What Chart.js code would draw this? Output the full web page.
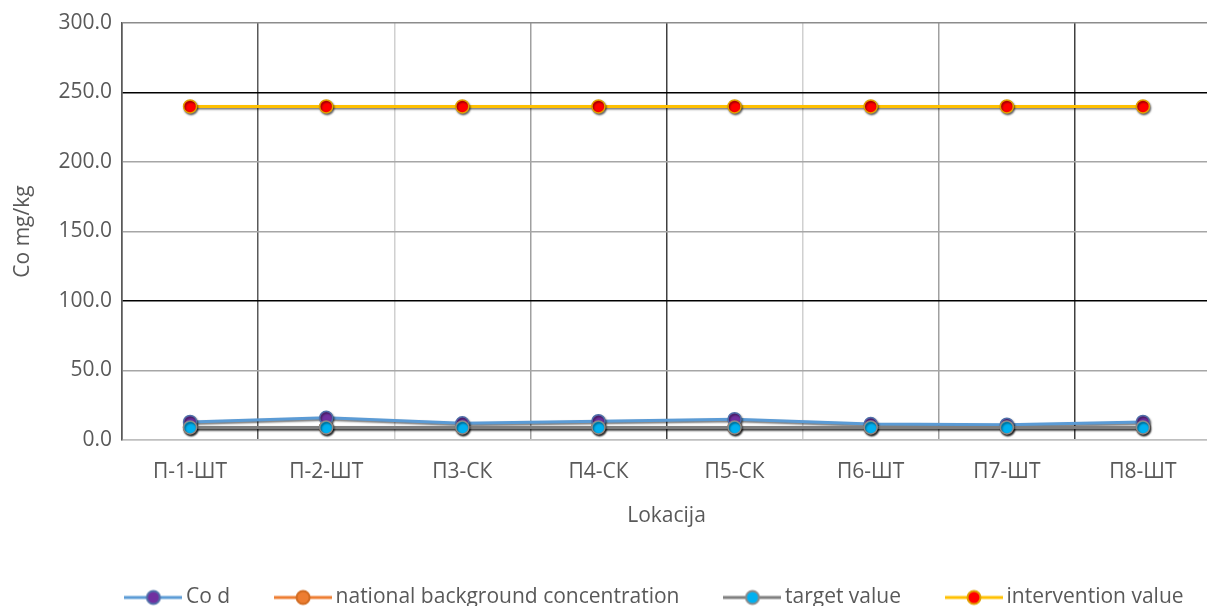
<!DOCTYPE html>
<html lang="en">
<head>
  <meta charset="UTF-8">
  <title>Co mg/kg</title>
  <script src="https://cdn.jsdelivr.net/npm/chart.js@4.4.3/dist/chart.umd.min.js"></script>
  <style>
    html, body { margin: 0; padding: 0; background: #fff; overflow: hidden; }
    canvas { display: block; }
  </style>
</head>
<body>
  <canvas id="coChart" width="1219" height="606"></canvas>

  <script>
    const locations = ['П-1-ШТ', 'П-2-ШТ', 'П3-СК', 'П4-СК', 'П5-СК', 'П6-ШТ', 'П7-ШТ', 'П8-ШТ'];
    const coD = [13, 16, 12, 13.5, 15, 11.5, 11, 13];
    const nationalBackground = [9, 9, 9, 9, 9, 9, 9, 9];
    const targetValue = [9, 9, 9, 9, 9, 9, 9, 9];
    const interventionValue = [240, 240, 240, 240, 240, 240, 240, 240];

    const FONT = "'Open Sans', sans-serif";
    const TEXT = '#595959';
    const SIZE = 21;

    // legend symbol: short line with a marker in the middle
    function legendIcon(line, fill, stroke) {
      const c = document.createElement('canvas');
      c.width = 58; c.height = 18;
      const g = c.getContext('2d');
      g.strokeStyle = line; g.lineWidth = 3;
      g.beginPath(); g.moveTo(0, 9); g.lineTo(58, 9); g.stroke();
      g.fillStyle = fill; g.strokeStyle = stroke; g.lineWidth = 2;
      g.beginPath(); g.arc(29, 9, 6.5, 0, Math.PI * 2); g.fill(); g.stroke();
      return c;
    }

    const series = [
      { label: 'Co d', data: coD, line: '#5b9bd5', fill: '#7030a0', stroke: '#4f6fa8', order: 2 },
      { label: 'national background concentration', data: nationalBackground, line: '#ed7d31', fill: '#ed7d31', stroke: '#d06a20', order: 3 },
      { label: 'target value', data: targetValue, line: '#7f7f7f', fill: '#00b0f0', stroke: '#8a8a8a', order: 1 },
      { label: 'intervention value', data: interventionValue, line: '#ffc000', fill: '#ff0000', stroke: '#e0a000', order: 0 }
    ];

    const yGrid = ['#bfbfbf', '#a6a6a6', '#000000', '#a6a6a6', '#a6a6a6', '#000000', '#8c8c8c'];
    const xGrid = ['#595959', '#595959', '#d0d0d0', '#a0a0a0', '#404040', '#d0d0d0', '#a0a0a0', '#404040', '#a0a0a0'];

    // soft dark edge under the series, like the original chart
    const lineShadow = {
      id: 'lineShadow',
      beforeDatasetDraw(chart) {
        const ctx = chart.ctx;
        ctx.save();
        ctx.shadowColor = 'rgba(0,0,0,0.55)';
        ctx.shadowBlur = 2;
        ctx.shadowOffsetX = 1;
        ctx.shadowOffsetY = 1.5;
      },
      afterDatasetDraw(chart) { chart.ctx.restore(); }
    };

    // the original legend sits right of centre (its chart was wider than the crop)
    const legendShift = {
      id: 'legendShift',
      afterLayout(chart) {
        chart.legend.left += 48;
        chart.legend.right += 48;
      }
    };

    new Chart(document.getElementById('coChart'), {
      type: 'line',
      data: {
        labels: locations,
        datasets: series.map(s => ({
          label: s.label,
          data: s.data,
          borderColor: s.line,
          borderWidth: 3,
          pointBackgroundColor: s.fill,
          pointBorderColor: s.stroke,
          pointBorderWidth: 1.5,
          pointRadius: 6.5,
          tension: 0,
          order: s.order
        }))
      },
      plugins: [lineShadow, legendShift],
      options: {
        responsive: false,
        animation: false,
        layout: { padding: { top: 23, right: 0, bottom: -12, left: 0 } },
        plugins: {
          tooltip: { enabled: false },
          legend: {
            position: 'bottom',
            labels: {
              font: { family: FONT, size: SIZE },
              color: TEXT,
              boxWidth: 44,
              pointStyleWidth: 44,
              padding: 51,
              usePointStyle: true,
              generateLabels: () => series.map((s, i) => ({
                text: s.label,
                pointStyle: legendIcon(s.line, s.fill, s.stroke),
                fontColor: TEXT,
                datasetIndex: i,
                lineWidth: 0
              }))
            }
          }
        },
        scales: {
          x: {
            offset: true,
            afterFit: s => { s.height = 96; },
            grid: { offset: true, color: c => xGrid[c.index] || '#a0a0a0', lineWidth: 1.5, drawTicks: false },
            border: { color: '#bfbfbf', width: 1.5 },
            ticks: { color: TEXT, font: { family: FONT, size: SIZE }, padding: 19, maxRotation: 0 },
            title: { display: true, text: 'Lokacija', color: TEXT, font: { family: FONT, size: SIZE }, padding: { top: 4, bottom: 7 } }
          },
          y: {
            min: 0, max: 300,
            afterFit: s => { s.width = 122; },
            ticks: { stepSize: 50, color: TEXT, font: { family: FONT, size: SIZE }, padding: 10, callback: v => v.toFixed(1) },
            grid: { color: c => yGrid[c.index] || '#a6a6a6', lineWidth: 1.5, drawTicks: false },
            border: { color: '#595959', width: 1.5 },
            title: { display: true, text: 'Co mg/kg', color: TEXT, font: { family: FONT, size: SIZE }, padding: { top: 10, bottom: 0 } }
          }
        }
      }
    });
  </script>
</body>
</html>
